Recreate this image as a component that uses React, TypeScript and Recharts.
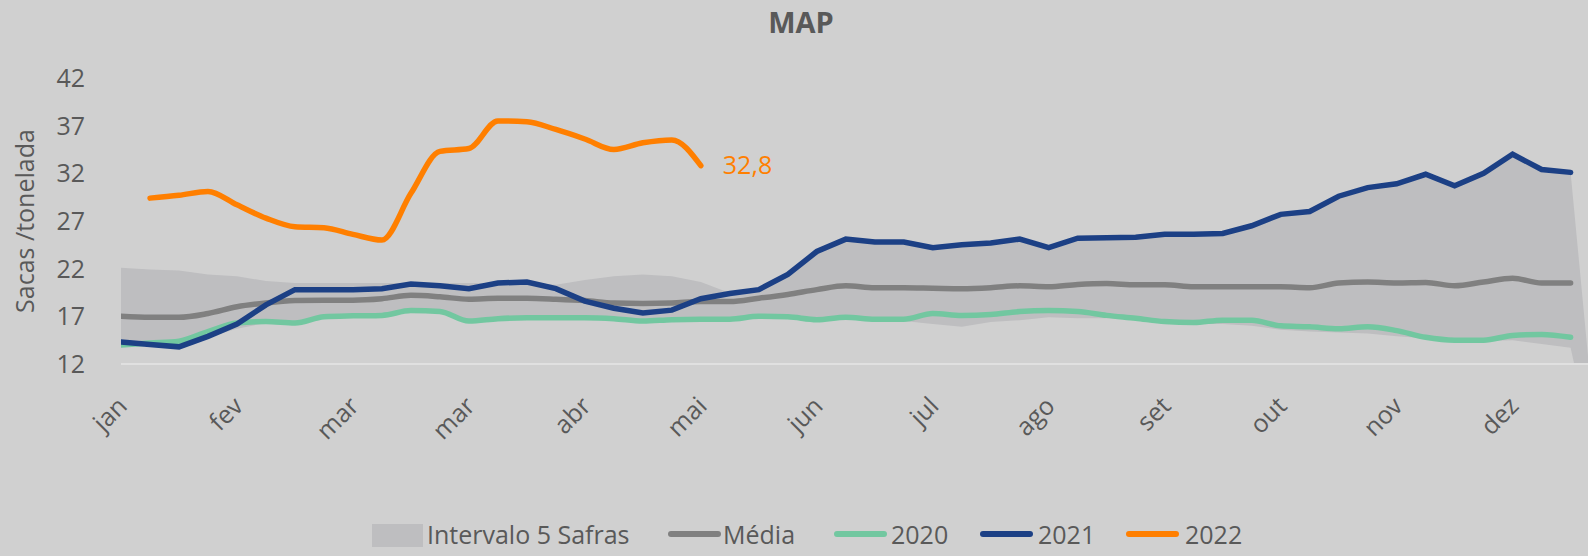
import React from 'react';
import { ComposedChart, Area, Line, XAxis, YAxis, Legend, LabelList } from 'recharts';

const MONTHS = ['jan', 'fev', 'mar', 'mar', 'abr', 'mai', 'jun', 'jul', 'ago', 'set', 'out', 'nov', 'dez'];
const Y_TICKS = [12, 17, 22, 27, 32, 37, 42];

const BAND_LO = [
  13.9, 14.0, 13.8, 14.8, 15.7, 16.3, 16.3, 16.9, 17.0, 17.0,
  17.5, 17.4, 16.4, 16.6, 16.7, 16.7, 16.7, 16.6, 16.4, 16.5,
  16.6, 16.6, 16.9, 16.8, 16.5, 16.8, 16.6, 16.5, 16.2, 15.9,
  16.4, 16.6, 16.9, 16.8, 16.8, 16.7, 16.4, 16.2, 16.2, 16.0,
  15.6, 15.4, 15.3, 15.2, 14.9, 14.7, 14.4, 14.4, 14.5, 14.1, 13.7,
  0,
];
const BAND_HI = [
  22.1, 21.9, 21.8, 21.4, 21.2, 20.7, 20.5, 20.5, 20.5, 20.5,
  20.5, 20.5, 20.5, 20.5, 20.6, 20.3, 20.8, 21.2, 21.4, 21.2,
  20.6, 19.45, 19.8, 21.4, 23.8, 25.1, 24.8, 24.8, 24.2, 24.5,
  24.7, 25.1, 24.2, 25.2, 25.25, 25.3, 25.6, 25.6, 25.7, 26.5,
  27.7, 28.0, 29.6, 30.5, 30.9, 31.9, 30.7, 32.0, 34.0, 32.4, 32.1,
  0,
];
const MEDIA = [
  17.0, 16.9, 16.9, 17.3, 18.0, 18.4, 18.65, 18.7, 18.7, 18.85,
  19.2, 19.05, 18.8, 18.9, 18.9, 18.8, 18.65, 18.4, 18.35, 18.4,
  18.55, 18.55, 18.9, 19.3, 19.8, 20.2, 20.0, 20.0, 19.95, 19.9,
  20.0, 20.2, 20.1, 20.35, 20.45, 20.3, 20.3, 20.1, 20.1, 20.1,
  20.1, 20.0, 20.5, 20.6, 20.5, 20.55, 20.2, 20.6, 21.0, 20.5, 20.5,
];
const Y2020 = [
  14.0, 14.2, 14.4, 15.4, 16.3, 16.45, 16.3, 16.95, 17.05, 17.1,
  17.6, 17.5, 16.5, 16.75, 16.85, 16.85, 16.85, 16.75, 16.5, 16.65,
  16.7, 16.7, 17.0, 16.95, 16.65, 16.9, 16.7, 16.7, 17.3, 17.1,
  17.2, 17.5, 17.6, 17.5, 17.1, 16.8, 16.45, 16.35, 16.6, 16.6,
  16.0, 15.9, 15.7, 15.9, 15.5, 14.8, 14.5, 14.5, 15.0, 15.1, 14.8,
];
const Y2021 = [
  14.3, 14.05, 13.8, 14.9, 16.2, 18.2, 19.8, 19.8, 19.8, 19.9,
  20.4, 20.2, 19.9, 20.5, 20.6, 19.9, 18.6, 17.85, 17.35, 17.65,
  18.85, 19.4, 19.8, 21.4, 23.8, 25.1, 24.8, 24.8, 24.2, 24.5,
  24.7, 25.1, 24.2, 25.2, 25.25, 25.3, 25.6, 25.6, 25.7, 26.5,
  27.7, 28.0, 29.6, 30.5, 30.9, 31.9, 30.7, 32.0, 34.0, 32.4, 32.1,
];
const Y2022 = [
  null, 29.4, 29.7, 30.1, 28.7, 27.3, 26.4, 26.3, 25.6, 25.0,
  29.9, 34.3, 34.6, 37.5, 37.4, 36.6, 35.6, 34.5, 35.2, 35.5, 32.8,
];

const data = BAND_LO.map((lo, i) => ({
  i,
  band: [lo, BAND_HI[i]],
  media: MEDIA[i] ?? null,
  y2020: Y2020[i] ?? null,
  y2021: Y2021[i] ?? null,
  y2022: Y2022[i] ?? null,
}));

const LAST_2022 = Y2022.length - 1;

const TEXT = '#595959';
const FONT = '"Open Sans", sans-serif';
const C_BAND = '#bebec0';
const C_MEDIA = '#808080';
const C_2020 = '#72c7a0';
const C_2021 = '#1c4085';
const C_2022 = '#ff7f00';

const legendItems = [
  { name: 'Intervalo 5 Safras', color: C_BAND, box: true, left: 372, textLeft: 427 },
  { name: 'Média', color: C_MEDIA, left: 668, textLeft: 723 },
  { name: '2020', color: C_2020, left: 834, textLeft: 891 },
  { name: '2021', color: C_2021, left: 980, textLeft: 1038 },
  { name: '2022', color: C_2022, left: 1126, textLeft: 1185 },
];

function LegendContent() {
  return (
    <div style={{ position: 'relative', height: 32, fontFamily: FONT, fontSize: 25, color: TEXT }}>
      {legendItems.map((it) => (
        <React.Fragment key={it.name}>
          {it.box ? (
            <div style={{ position: 'absolute', left: it.left, top: 6, width: 51, height: 23, background: it.color }} />
          ) : (
            <div style={{ position: 'absolute', left: it.left, top: 13, width: 53, height: 6, borderRadius: 3, background: it.color }} />
          )}
          <div style={{ position: 'absolute', left: it.textLeft, top: 0, lineHeight: '32px', whiteSpace: 'nowrap' }}>{it.name}</div>
        </React.Fragment>
      ))}
    </div>
  );
}

const lastLabel = (props: any) => {
  const { x, y, value, index } = props;
  if (index !== LAST_2022 || value == null) return null;
  return (
    <text x={x + 22} y={y} dy="0.35em" fill={C_2022} fontSize={25} fontFamily={FONT}>
      {Number(value).toFixed(1).replace('.', ',')}
    </text>
  );
};

export default function App() {
  return (
    <div style={{ position: 'absolute', left: 0, top: 0, width: 1588, height: 556, background: '#d0d0d0', fontFamily: FONT }}>
      <div style={{ position: 'absolute', left: 0, top: 8, width: 1602, textAlign: 'center', fontSize: 29, lineHeight: '28px', fontWeight: 700, color: TEXT }}>
        MAP
      </div>
      <ComposedChart width={1588} height={556} data={data} margin={{ top: 78, right: 0, left: 0, bottom: 60 }}>
        <XAxis
          dataKey="i"
          type="number"
          domain={[0, 50.6]}
          allowDataOverflow
          ticks={MONTHS.map((_, k) => k * 4)}
          tickFormatter={(v: number) => MONTHS[v / 4]}
          interval={0}
          height={100}
          axisLine={{ stroke: '#e0e0e0', strokeWidth: 2 }}
          tickLine={false}
          tickSize={0}
          tickMargin={31}
          tick={{ fill: TEXT, fontSize: 25, fontFamily: FONT, angle: -45, textAnchor: 'end', dx: -5 }}
        />
        <YAxis
          domain={[12, 42]}
          allowDataOverflow
          ticks={Y_TICKS}
          interval={0}
          width={121}
          axisLine={false}
          tickLine={false}
          tickSize={0}
          tickMargin={36}
          tick={{ fill: TEXT, fontSize: 25, fontFamily: FONT }}
          label={(p: any) => {
            const vb = p.viewBox || { x: 0, y: 78, width: 121, height: 286 };
            const cx = vb.x + 25;
            const cy = vb.y + vb.height / 2;
            return (
              <text x={cx} y={cy} transform={`rotate(-90, ${cx}, ${cy})`} textAnchor="middle" dy="0.35em" fill={TEXT} fontSize={25} fontFamily={FONT}>
                Sacas /tonelada
              </text>
            );
          }}
        />
        <Legend
          verticalAlign="bottom"
          content={() => <LegendContent />}
          wrapperStyle={{ top: 518, left: 0, height: 32, width: 1588 }}
        />
        <Area dataKey="band" type="linear" stroke="none" fill={C_BAND} fillOpacity={1} isAnimationActive={false} activeDot={false} />
        <Line dataKey="media" type="monotone" stroke={C_MEDIA} strokeWidth={5.5} strokeLinecap="round" dot={false} activeDot={false} isAnimationActive={false} />
        <Line dataKey="y2020" type="monotone" stroke={C_2020} strokeWidth={5.5} strokeLinecap="round" dot={false} activeDot={false} isAnimationActive={false} />
        <Line dataKey="y2021" type="linear" stroke={C_2021} strokeWidth={5.5} strokeLinecap="round" dot={false} activeDot={false} isAnimationActive={false} />
        <Line dataKey="y2022" type="monotone" stroke={C_2022} strokeWidth={5.5} strokeLinecap="round" dot={false} activeDot={false} isAnimationActive={false}>
          <LabelList dataKey="y2022" content={lastLabel} />
        </Line>
      </ComposedChart>
    </div>
  );
}
